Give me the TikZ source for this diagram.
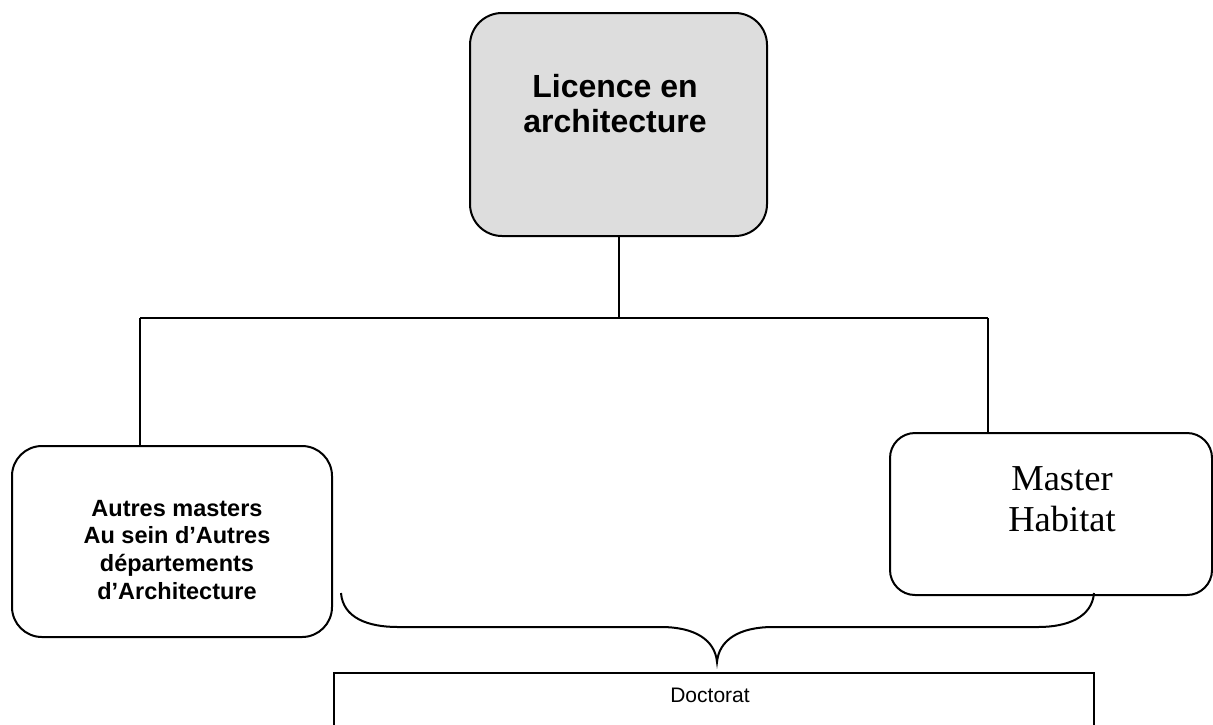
\documentclass[tikz,border=0pt]{standalone}
\usepackage{fontspec}
\setmainfont{Liberation Sans}
\newfontfamily\timesfont{Liberation Serif}
\usepackage{tikz}
\usetikzlibrary{positioning}
\definecolor{licfill}{RGB}{221,221,221}

\begin{document}
\begin{tikzpicture}[x=0.5pt,y=-0.5pt,line width=1pt,
                    box/.style={draw=black,fill=white,inner sep=0pt},
                    txt/.style={inner sep=0pt,align=center,anchor=north}]
	\tikzstyle{every node}=[text=black]
	\useasboundingbox (0,0) rectangle (1213,724);

	\node[box,fill=licfill,rounded corners=16pt,minimum width=148.5pt,minimum height=111.5pt] (lic) at (618.5,124.5) {};
	\node[box,rounded corners=15pt,minimum width=160pt,minimum height=95.5pt] (autres) at (172,541.5) {};
	\node[box,rounded corners=12.5pt,minimum width=161pt,minimum height=81pt] (master) at (1051,514) {};

	\node[txt,font=\bfseries\fontsize{16pt}{17.5pt}\selectfont,below=30.5pt of lic.north,xshift=-1.75pt] (lictxt) {Licence en\\architecture};
	\node[txt,font=\bfseries\fontsize{11.75pt}{13.9pt}\selectfont,below=27pt of autres.north,xshift=2.5pt] (autrestxt) {Autres masters\\Au sein d’Autres\\départements\\d’Architecture};
	\node[txt,font=\timesfont\fontsize{18.25pt}{20.5pt}\selectfont,below=17pt of master.north,xshift=5.5pt] (mastertxt) {Master\\Habitat};

	\begin{scope}
		\clip (0,0) rectangle (1213,724);
		\node[box,minimum width=380pt,minimum height=53.5pt] (doc) at (714,726.5) {};
	\end{scope}
	\node[txt,font=\fontsize{10.5pt}{12pt}\selectfont,below=7.5pt of doc.north,xshift=-2pt] (doctxt) {Doctorat};

	% liaisons
	\coordinate (jl) at (140,318);
	\coordinate (jr) at (988,318);
	\draw (lic.south) -- (lic.south |- jl);
	\draw (jl) -- (jr);
	\draw (jl) -- (jl |- autres.north);
	\draw (jr) -- (jr |- master.north);

	% accolade
	\coordinate (bl) at (341,593);
	\coordinate (br) at (1094,593);
	\coordinate (tip) at (717,662);
	\draw (bl) .. controls (343,618) and (368,627) .. (398,627) -- (661,627)
		.. controls (695,627) and (715,640) .. (tip)
		.. controls (719,640) and (739,627) .. (773,627) -- (1038,627)
		.. controls (1068,627) and (1092,617) .. (br);
\end{tikzpicture}
\end{document}
